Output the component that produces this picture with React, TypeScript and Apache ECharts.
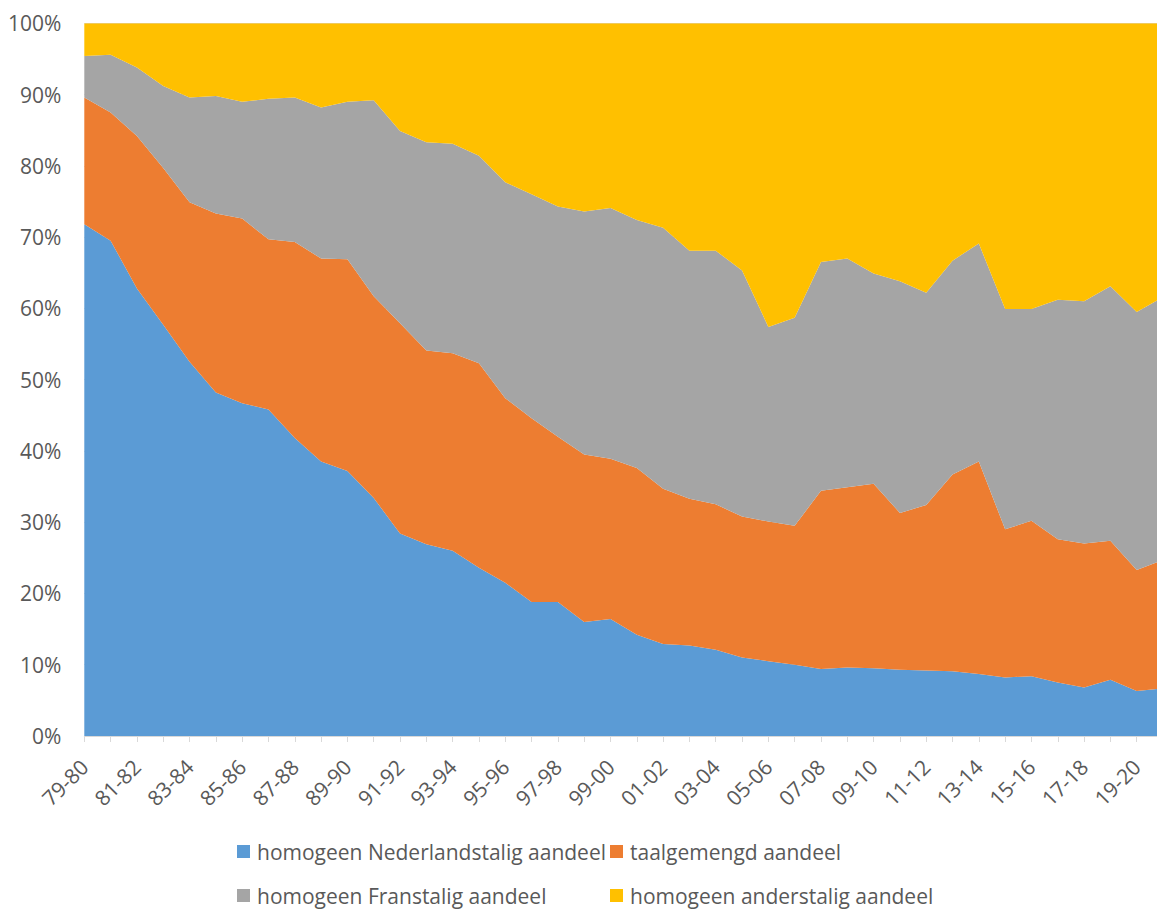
import React, { useEffect, useRef } from "react";
import * as echarts from "echarts";

const categories = [
  "79-80", "80-81", "81-82", "82-83", "83-84", "84-85", "85-86", "86-87", "87-88", "88-89",
  "89-90", "90-91", "91-92", "92-93", "93-94", "94-95", "95-96", "96-97", "97-98", "98-99",
  "99-00", "00-01", "01-02", "02-03", "03-04", "04-05", "05-06", "06-07", "07-08", "08-09",
  "09-10", "10-11", "11-12", "12-13", "13-14", "14-15", "15-16", "16-17", "17-18", "18-19",
  "19-20", "20-21",
];

const nederlandstalig = [
  71.8, 69.5, 62.8, 57.7, 52.5, 48.2, 46.7, 45.8, 41.8, 38.5,
  37.2, 33.4, 28.4, 26.9, 26.0, 23.6, 21.5, 18.8, 18.8, 16.0,
  16.4, 14.2, 12.9, 12.7, 12.1, 11.0, 10.5, 10.0, 9.4, 9.6,
  9.5, 9.3, 9.2, 9.1, 8.7, 8.2, 8.4, 7.5, 6.8, 7.9,
  6.3, 6.7,
];

const taalgemengd = [
  17.8, 18.0, 21.4, 22.0, 22.4, 25.1, 25.9, 23.9, 27.5, 28.5,
  29.7, 28.3, 29.5, 27.2, 27.7, 28.7, 25.9, 25.8, 23.2, 23.5,
  22.5, 23.4, 21.8, 20.6, 20.4, 19.8, 19.6, 19.5, 25.0, 25.3,
  25.9, 22.0, 23.2, 27.6, 29.8, 20.8, 21.8, 20.1, 20.2, 19.5,
  17.0, 18.0,
];

const franstalig = [
  5.8, 8.1, 9.6, 11.5, 14.7, 16.5, 16.4, 19.7, 20.3, 21.2,
  22.1, 27.5, 27.0, 29.2, 29.4, 29.1, 30.3, 31.4, 32.3, 34.1,
  35.2, 34.8, 36.6, 34.8, 35.6, 34.5, 27.3, 29.2, 32.1, 32.1,
  29.5, 32.5, 29.8, 30.0, 30.6, 30.9, 29.7, 33.6, 34.0, 35.7,
  36.2, 36.9,
];

const anderstalig = [
  4.6, 4.4, 6.2, 8.8, 10.4, 10.2, 11.0, 10.6, 10.4, 11.8,
  11.0, 10.8, 15.1, 16.7, 16.9, 18.6, 22.3, 24.0, 25.7, 26.4,
  25.9, 27.6, 28.7, 31.9, 31.9, 34.7, 42.6, 41.3, 33.5, 33.0,
  35.1, 36.2, 37.8, 33.3, 30.9, 40.1, 40.1, 38.8, 39.0, 36.9,
  40.5, 38.4,
];

const seriesNames = [
  "homogeen Nederlandstalig aandeel",
  "taalgemengd aandeel",
  "homogeen Franstalig aandeel",
  "homogeen anderstalig aandeel",
];

const colors = ["#5B9BD5", "#ED7D31", "#A5A5A5", "#FFC000"];

const FONT = "'Open Sans', 'Noto Sans', sans-serif";

export default function App() {
  const ref = useRef<HTMLDivElement>(null);

  useEffect(() => {
    if (!ref.current) return;
    const chart = echarts.init(ref.current, undefined, { renderer: "svg" });
    const values = [nederlandstalig, taalgemengd, franstalig, anderstalig];

    const legendPos = [
      { left: 237, top: 841 },
      { left: 610, top: 841 },
      { left: 237, top: 885 },
      { left: 610, top: 885 },
    ];

    chart.setOption({
      animation: false,
      color: colors,
      grid: {
        left: 84.3,
        top: 23.3,
        width: 1078.7,
        height: 712.7,
        containLabel: false,
        outerBoundsMode: "none",
      },
      legend: seriesNames.map((n, i) => ({
        data: [n],
        left: legendPos[i].left,
        top: legendPos[i].top,
        icon: "rect",
        itemWidth: 13,
        itemHeight: 13,
        padding: 0,
        selectedMode: false,
        textStyle: { fontSize: 21, color: "#595959", fontFamily: FONT, padding: [0, 0, 0, 2] },
      })),
      xAxis: {
        type: "category",
        boundaryGap: false,
        data: categories,
        axisLine: { show: true, lineStyle: { color: "#D9D9D9", width: 1 } },
        axisTick: { show: true, interval: 0, length: 6, lineStyle: { color: "#D9D9D9" } },
        axisLabel: {
          interval: 1,
          rotate: 45,
          margin: 27,
          fontSize: 21,
          color: "#595959",
          fontFamily: FONT,
        },
        splitLine: { show: false },
      },
      yAxis: {
        type: "value",
        min: 0,
        max: 100,
        interval: 10,
        axisLine: { show: false },
        axisTick: { show: false },
        axisLabel: {
          formatter: "{value}%",
          fontSize: 21,
          color: "#595959",
          fontFamily: FONT,
          margin: 23,
        },
        splitLine: { show: true, lineStyle: { color: "#D9D9D9", width: 1 } },
      },
      series: seriesNames.map((n, i) => ({
        name: n,
        type: "line",
        stack: "total",
        data: values[i],
        symbol: "none",
        showSymbol: false,
        lineStyle: { width: 0 },
        areaStyle: { color: colors[i], opacity: 1 },
        itemStyle: { color: colors[i] },
      })),
    });

    return () => chart.dispose();
  }, []);

  return (
    <div
      style={{
        position: "absolute",
        left: 0,
        top: 0,
        width: 1157,
        height: 909,
        overflow: "hidden",
        background: "#fff",
      }}
    >
      <div ref={ref} style={{ width: 1180, height: 909 }} />
    </div>
  );
}
